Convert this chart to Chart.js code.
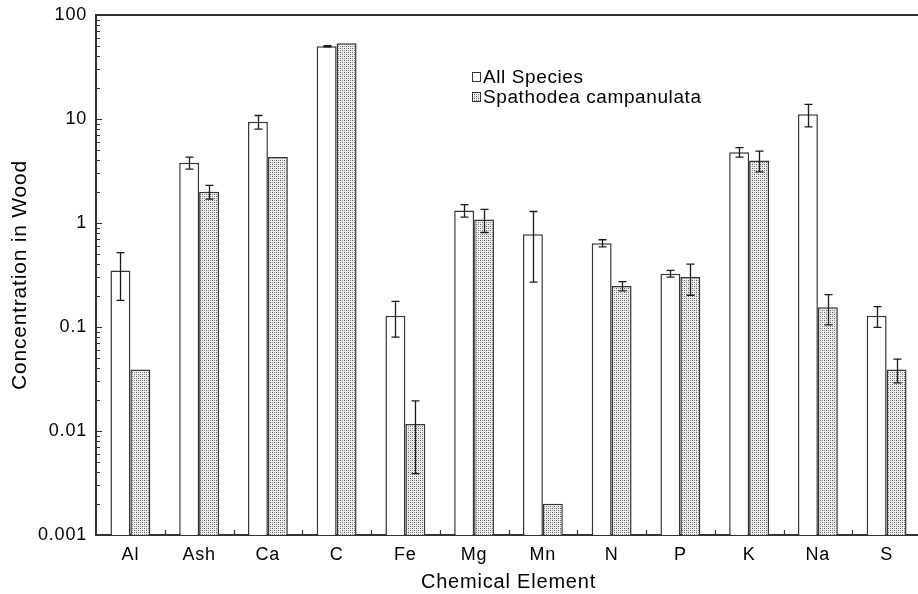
<!DOCTYPE html>
<html>
<head>
<meta charset="utf-8">
<script src="https://cdn.jsdelivr.net/npm/chart.js@4.4.0/dist/chart.umd.min.js"></script>
<style>
  html, body { margin: 0; padding: 0; background: #fff; overflow: hidden; }
  #wrap { width: 926px; height: 594px; }
</style>
</head>
<body>
<div id="wrap"><canvas id="chart" width="926" height="594"></canvas></div>
<script>
// valeurs (échelle log)
const elements = ['Al', 'Ash', 'Ca', 'C', 'Fe', 'Mg', 'Mn', 'N', 'P', 'K', 'Na', 'S'];
const allSpecies = [0.35, 3.8, 9.4, 50, 0.128, 1.32, 0.78, 0.64, 0.326, 4.8, 11.1, 0.128];
const allSpeciesErr = [0.17, 0.5, 1.4, 0.6, 0.048, 0.18, 0.51, 0.05, 0.024, 0.5, 2.7, 0.029];
const spathodea = [0.039, 2.0, 4.3, 53.5, 0.0117, 1.08, 0.002, 0.248, 0.302, 4.0, 0.155, 0.039];
const spathodeaErr = [null, 0.3, null, null, 0.0078, 0.27, null, 0.025, 0.1, 0.9, 0.05, 0.01];
const seriesNames = ['All Species', 'Spathodea campanulata'];

Chart.defaults.font.family = '"Liberation Sans", Arial, sans-serif';
Chart.defaults.color = '#000';

// motif pointillé gris
function stipple(){
  const c = document.createElement('canvas'); c.width = 4; c.height = 4;
  const g = c.getContext('2d');
  g.fillStyle = '#eeeeee'; g.fillRect(0, 0, 4, 4);
  g.fillStyle = '#5c5c5c'; g.fillRect(0, 0, 1, 1); g.fillRect(2, 2, 1, 1);
  g.fillStyle = '#9c9c9c'; g.fillRect(2, 0, 1, 1); g.fillRect(0, 2, 1, 1);
  return g.createPattern(c, 'repeat');
}
const dots = stipple();

const isDecade = v => { const l = Math.log10(v); return Math.abs(l - Math.round(l)) < 1e-6; };

const frame = {
  id: 'frame',
  beforeDraw(chart){ chart.ctx.letterSpacing = '0.8px'; },
  afterDatasetsDraw(chart){
    const { ctx, chartArea: a, scales: { x, y } } = chart;
    ctx.save();
    // barres d'erreur
    ctx.strokeStyle = '#1a1a1a'; ctx.lineWidth = 1.3;
    chart.data.datasets.forEach((ds, di) => {
      const meta = chart.getDatasetMeta(di);
      ds.errors.forEach((e, i) => {
        if (e == null) return;
        const bx = Math.round(meta.data[i].x) + 0.5, v = ds.data[i];
        const yt = y.getPixelForValue(v + e), yb = y.getPixelForValue(v - e);
        ctx.beginPath();
        ctx.moveTo(bx, yt); ctx.lineTo(bx, yb);
        ctx.moveTo(bx - 4, yt); ctx.lineTo(bx + 4, yt);
        ctx.moveTo(bx - 4, yb); ctx.lineTo(bx + 4, yb);
        ctx.stroke();
      });
    });
    // graduations vers l'intérieur
    ctx.strokeStyle = '#333'; ctx.lineWidth = 1.2;
    ctx.beginPath();
    y.ticks.forEach(t => {
      const p = Math.pow(10, Math.floor(Math.log10(t.value) + 1e-9));
      const m = t.value / p;
      if (Math.abs(m - Math.round(m)) > 0.01) return;
      const py = Math.round(y.getPixelForValue(t.value)) + 0.5;
      ctx.moveTo(a.left, py); ctx.lineTo(a.left + (Math.round(m) === 1 ? 6 : 4), py);
    });
    for (let i = 0; i < elements.length - 1; i++) {
      const px = Math.round((x.getPixelForTick(i) + x.getPixelForTick(i + 1)) / 2) + 0.5;
      ctx.moveTo(px, a.bottom); ctx.lineTo(px, a.bottom - 5);
    }
    ctx.stroke();
    ctx.lineWidth = 2;
    ctx.beginPath();
    ctx.moveTo(a.left, a.top); ctx.lineTo(a.right, a.top); ctx.lineTo(a.right, a.bottom);
    ctx.stroke();
    ctx.restore();
  },
  afterDraw(chart){
    const ctx = chart.ctx;
    ctx.save();
    ctx.letterSpacing = '0.6px';
    ctx.font = '19px "Liberation Sans", Arial, sans-serif';
    ctx.textBaseline = 'middle';
    chart.data.datasets.forEach((ds, i) => {
      const cy = 77 + i * 20;
      ctx.fillStyle = ds.backgroundColor;
      ctx.fillRect(472.5, cy - 4.5, 8, 9);
      ctx.strokeStyle = '#333'; ctx.lineWidth = 1;
      ctx.strokeRect(472.5, cy - 4.5, 8, 9);
      ctx.fillStyle = '#000';
      ctx.fillText(ds.label, 483, cy + 1);
    });
    ctx.restore();
    ctx.letterSpacing = '0px';
  }
};

new Chart(document.getElementById('chart'), {
  type: 'bar',
  data: {
    labels: elements,
    datasets: [
      { label: seriesNames[0], data: allSpecies, errors: allSpeciesErr, backgroundColor: '#ffffff',
        borderColor: '#333', borderWidth: 1.5 },
      { label: seriesNames[1], data: spathodea, errors: spathodeaErr, backgroundColor: dots,
        borderColor: '#333', borderWidth: 1.5 }
    ]
  },
  options: {
    responsive: false,
    animation: false,
    devicePixelRatio: 1,
    categoryPercentage: 0.58,
    barPercentage: 1.0,
    layout: { padding: { top: 15, right: 5, left: 0, bottom: 0 } },
    plugins: { legend: { display: false }, tooltip: { enabled: false } },
    scales: {
      x: {
        grid: { display: false, drawTicks: false },
        border: { display: true, color: '#333', width: 2 },
        ticks: { font: { size: 18 }, padding: 9, maxRotation: 0, autoSkip: false },
        title: { display: true, text: 'Chemical Element', font: { size: 20 }, padding: { top: 0, bottom: 0 } },
        afterFit: s => { s.height = 59; s.paddingLeft = 0; s.paddingRight = 0; }
      },
      y: {
        type: 'logarithmic', min: 0.001, max: 100,
        grid: { display: false, drawTicks: false },
        border: { display: true, color: '#333', width: 2 },
        ticks: { font: { size: 18 }, padding: 9, autoSkip: false,
                 callback: v => isDecade(v) ? String(v) : '' },
        title: { display: true, text: 'Concentration in Wood', font: { size: 21 }, padding: { top: 8, bottom: 0 } },
        afterFit: s => { s.width = 96; s.paddingTop = 0; s.paddingBottom = 0; }
      }
    }
  },
  plugins: [frame]
});
</script>
</body>
</html>
